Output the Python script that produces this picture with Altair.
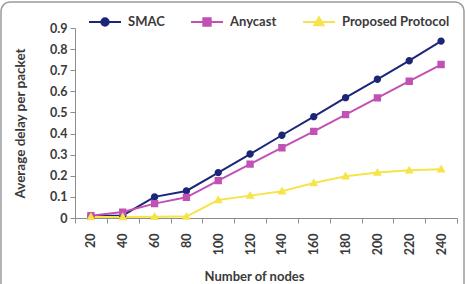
import altair as alt
import pandas as pd

# Average delay per packet for each protocol vs number of nodes
nodes = [20, 40, 60, 80, 100, 120, 140, 160, 180, 200, 220, 240]
smac = [0.010, 0.012, 0.100, 0.128, 0.215, 0.303, 0.392, 0.480, 0.570, 0.657, 0.745, 0.838]
anycast = [0.011, 0.028, 0.068, 0.098, 0.177, 0.255, 0.333, 0.410, 0.490, 0.569, 0.648, 0.727]
proposed = [0.005, 0.005, 0.006, 0.007, 0.085, 0.106, 0.127, 0.166, 0.198, 0.215, 0.226, 0.231]

series_names = ["SMAC", "Anycast", "Proposed Protocol"]
series_colors = ["#1c2677", "#c151b5", "#f7e44a"]

# symbol paths in the [-1, 1] box: a horizontal stroke (only visible when the
# symbol is stroked, i.e. in the legend) plus a filled marker
marker_paths = [
    "M-1,0H1M0.23,0A0.23,0.23,0,1,1,-0.23,0A0.23,0.23,0,1,1,0.23,0Z",
    "M-1,0H1M-0.23,-0.23H0.23V0.23H-0.23Z",
    "M-1,0H1M0,-0.29L0.28,0.2H-0.28Z",
]
y_ticks = [0, 0.1, 0.2, 0.3, 0.4, 0.5, 0.6, 0.7, 0.8, 0.9]

rows = []
for name, vals in zip(series_names, [smac, anycast, proposed]):
    for n, v in zip(nodes, vals):
        rows.append({"nodes": n, "series": name, "delay": v})
df = pd.DataFrame(rows)

FONT = "Lato"
TEXT = "#3a3a3a"
AXIS = "#8c8c8c"
SYM = 1024

x_enc = alt.X(
    "nodes:O",
    sort=nodes,
    scale=alt.Scale(type="band", paddingInner=0, paddingOuter=0),
    axis=alt.Axis(
        title="Number of nodes",
        labelAngle=-90,
        tickBand="extent",
        tickSize=5,
        labelPadding=10,
        titleX=179,
        titleY=52,
        titleAnchor="middle",
        titleFontSize=13,
    ),
)
y_enc = alt.Y(
    "delay:Q",
    scale=alt.Scale(domain=[0, 0.9], nice=False),
    axis=alt.Axis(
        title="Average delay per packet",
        values=y_ticks,
        format=".1~f",
        tickSize=5,
        labelPadding=3,
        titlePadding=22,
    ),
)

legend_spec = alt.Legend(
    title=None,
    orient="none",
    direction="horizontal",
    gridAlign="none",
    legendX=13,
    legendY=-23,
    symbolSize=SYM,
    symbolStrokeWidth=2,
    labelOffset=6,
    columnPadding=22,
    padding=0,
    labelFont=FONT,
    labelFontSize=13,
    labelFontWeight="bold",
    labelColor=TEXT,
)

lines = alt.Chart(df).mark_line(strokeWidth=2).encode(
    x=x_enc,
    y=y_enc,
    stroke=alt.Stroke(
        "series:N",
        scale=alt.Scale(domain=series_names, range=series_colors),
        sort=series_names,
        legend=legend_spec,
    ),
)

points = alt.Chart(df).mark_point(filled=True, size=SYM, opacity=1, strokeWidth=0).encode(
    x=x_enc,
    y=y_enc,
    fill=alt.Fill(
        "series:N",
        scale=alt.Scale(domain=series_names, range=series_colors),
        sort=series_names,
        legend=legend_spec,
    ),
    shape=alt.Shape(
        "series:N",
        scale=alt.Scale(domain=series_names, range=marker_paths),
        sort=series_names,
        legend=legend_spec,
    ),
)

# rounded frame around the whole figure
frame = alt.Chart(pd.DataFrame({"f": [0]})).mark_rect(
    fill=None, stroke="#9a9a9a", strokeWidth=1.5, cornerRadius=9, clip=False
).encode(
    x=alt.value(-74),
    x2=alt.value(389),
    y=alt.value(-26),
    y2=alt.value(290),
)

chart = (
    alt.layer(frame, lines, points)
    .properties(
        width=382,
        height=190,
        autosize=alt.AutoSizeParams(type="none"),
        padding={"left": 75, "top": 28, "right": 8, "bottom": 66},
        background="white",
    )
    .configure_view(stroke=None)
    .configure_axis(
        domainColor=AXIS,
        tickColor=AXIS,
        grid=False,
        labelFont=FONT,
        labelFontSize=12.5,
        labelFontWeight="bold",
        labelColor=TEXT,
        titleFont=FONT,
        titleFontSize=13.5,
        titleFontWeight="bold",
        titleColor=TEXT,
    )
)

chart.save("out.html", embed_options={"renderer": "svg", "actions": False})
